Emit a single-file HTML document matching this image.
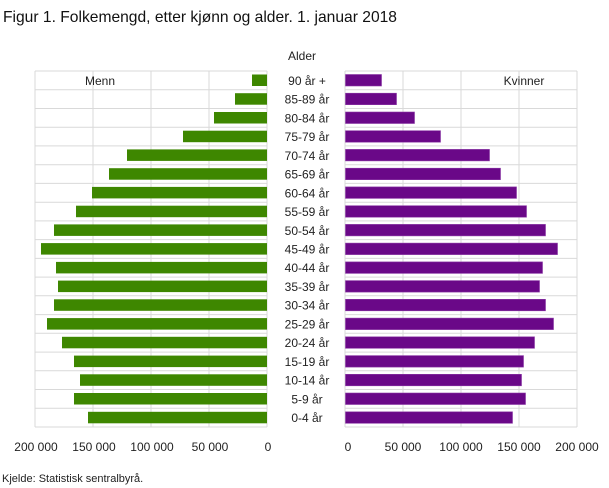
<!DOCTYPE html>
<html><head><meta charset="utf-8"><style>
html,body{margin:0;padding:0;background:#fff;}
svg{display:block;font-family:"Liberation Sans",sans-serif;}
</style></head><body>
<svg id="s" width="609" height="488" xmlns="http://www.w3.org/2000/svg">
<text x="3" y="22" font-size="16" fill="#111" textLength="394" lengthAdjust="spacingAndGlyphs">Figur 1. Folkemengd, etter kjønn og alder. 1. januar 2018</text>
<text x="302" y="60" font-size="12" fill="#222" text-anchor="middle">Alder</text>
<g id="g"></g>
<text x="100" y="85" font-size="12" fill="#222" text-anchor="middle">Menn</text>
<text x="524" y="85" font-size="12" fill="#222" text-anchor="middle">Kvinner</text>
<g font-size="12" fill="#222" text-anchor="middle">
<text x="36" y="451">200 000</text>
<text x="94" y="451">150 000</text>
<text x="152" y="451">100 000</text>
<text x="210" y="451">50 000</text>
<text x="268" y="451">0</text>
<text x="348" y="451">0</text>
<text x="403" y="451">50 000</text>
<text x="461" y="451">100 000</text>
<text x="519" y="451">150 000</text>
<text x="577" y="451">200 000</text>
</g>
<text x="2" y="482" font-size="11" fill="#222">Kjelde: Statistisk sentralbyrå.</text>
</svg>
<script>
(function(){
var labels=["90 år +","85-89 år","80-84 år","75-79 år","70-74 år","65-69 år","60-64 år","55-59 år","50-54 år","45-49 år","40-44 år","35-39 år","30-34 år","25-29 år","20-24 år","15-19 år","10-14 år","5-9 år","0-4 år"];
var men=[15,32,53,84,140,158,175,191,213,226,211,209,213,220,205,193,187,193,179];
var wom=[36,51,69,95,144,155,171,181,200,212,197,194,200,208,189,178,176,180,167];
var t0=71,b0=427,rh=(b0-t0)/19,h="";
var gc="#d9d9d9";
[35,93,151,209,267].forEach(function(x){h+='<line x1="'+x+'" y1="'+t0+'" x2="'+x+'" y2="'+b0+'" stroke="'+gc+'"/>';});
[345,403,461,519,577].forEach(function(x){h+='<line x1="'+x+'" y1="'+t0+'" x2="'+x+'" y2="'+b0+'" stroke="'+gc+'"/>';});
for(var i=0;i<=19;i++){var y=(t0+i*rh).toFixed(1);
h+='<line x1="35" y1="'+y+'" x2="267" y2="'+y+'" stroke="'+gc+'"/>';
h+='<line x1="345" y1="'+y+'" x2="577" y2="'+y+'" stroke="'+gc+'"/>';}
for(var i=0;i<19;i++){var y=t0+i*rh;
h+='<rect x="'+(267-men[i])+'" y="'+(y+3.5).toFixed(1)+'" width="'+men[i]+'" height="11.5" fill="#3e8700"/>';
h+='<rect x="345.5" y="'+(y+3.5).toFixed(1)+'" width="'+wom[i]+'" height="11.5" fill="#6a0888" stroke="#8b3aa6" stroke-width="0.6"/>';
h+='<text x="307" y="'+(y+rh/2+4.5).toFixed(1)+'" font-size="12" fill="#222" text-anchor="middle">'+labels[i]+'</text>';}
document.getElementById("g").innerHTML=h;
})();
</script>
</body></html>
